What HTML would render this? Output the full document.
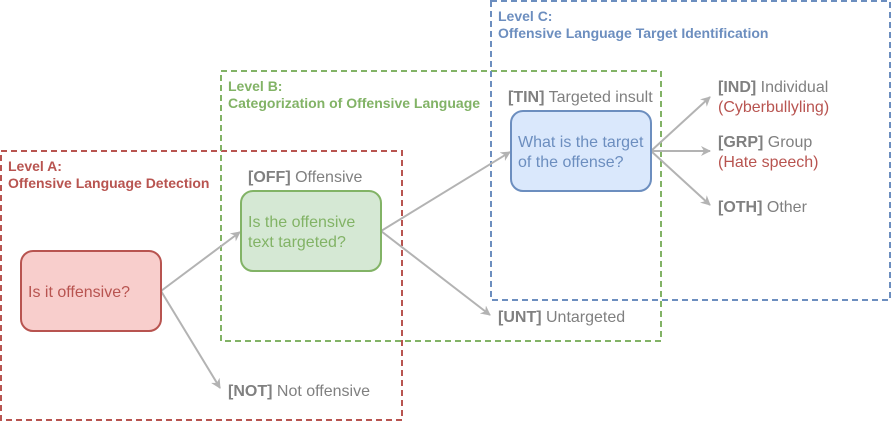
<!DOCTYPE html>
<html><head><meta charset="utf-8"><style>
body{margin:0;background:#fff}
svg text{font-family:"Liberation Sans",Arial,sans-serif}
</style></head><body>
<svg width="892" height="422" viewBox="0 0 892 422" xmlns="http://www.w3.org/2000/svg">
<defs>
<marker id="a" markerWidth="10" markerHeight="10" refX="9" refY="5" orient="auto" markerUnits="userSpaceOnUse">
<path d="M0,0 L10,5 L0,10 L3,5 Z" fill="#b3b3b3"/></marker>
</defs>
<g fill="none" stroke-width="2" stroke-dasharray="6,4">
<rect x="1" y="151" width="401" height="269" stroke="#b85450"/>
<rect x="221" y="71" width="440" height="270" stroke="#82b366"/>
<rect x="491" y="1" width="399" height="299" stroke="#6c8ebf"/>
</g>
<g stroke="#b3b3b3" stroke-width="2" fill="none">
<line x1="161" y1="291" x2="240" y2="232" marker-end="url(#a)"/>
<line x1="161" y1="291" x2="220" y2="388" marker-end="url(#a)"/>
<line x1="381" y1="231" x2="510" y2="152" marker-end="url(#a)"/>
<line x1="381" y1="231" x2="490" y2="315" marker-end="url(#a)"/>
<line x1="651" y1="151" x2="710" y2="97" marker-end="url(#a)"/>
<line x1="651" y1="151" x2="710" y2="151" marker-end="url(#a)"/>
<line x1="651" y1="151" x2="710" y2="205" marker-end="url(#a)"/>
</g>
<rect x="21" y="251" width="140" height="80" rx="12" fill="#f8cecc" stroke="#b85450" stroke-width="2"/>
<rect x="241" y="191" width="140" height="80" rx="12" fill="#d5e8d4" stroke="#82b366" stroke-width="2"/>
<rect x="511" y="111" width="140" height="80" rx="12" fill="#dae8fc" stroke="#6c8ebf" stroke-width="2"/>
<g font-size="14" font-weight="bold">
<text x="8" y="171" fill="#b85450">Level A:</text>
<text x="8" y="188" fill="#b85450">Offensive Language Detection</text>
<text x="228" y="91" fill="#82b366">Level B:</text>
<text x="228" y="108" fill="#82b366">Categorization of Offensive Language</text>
<text x="498" y="21" fill="#6c8ebf">Level C:</text>
<text x="498" y="38" fill="#6c8ebf">Offensive Language Target Identification</text>
</g>
<g font-size="16">
<text x="28" y="297" fill="#b85450">Is it offensive?</text>
<text x="248" y="227" fill="#82b366">Is the offensive</text>
<text x="248" y="247" fill="#82b366">text targeted?</text>
<text x="518" y="147" fill="#6c8ebf">What is the target</text>
<text x="518" y="167" fill="#6c8ebf">of the offense?</text>
<g fill="#808080">
<text x="248" y="182"><tspan font-weight="bold">[OFF]</tspan> Offensive</text>
<text x="228" y="396"><tspan font-weight="bold">[NOT]</tspan> Not offensive</text>
<text x="508" y="102"><tspan font-weight="bold">[TIN]</tspan> Targeted insult</text>
<text x="498" y="322"><tspan font-weight="bold">[UNT]</tspan> Untargeted</text>
<text x="718" y="92"><tspan font-weight="bold">[IND]</tspan> Individual</text>
<text x="718" y="147"><tspan font-weight="bold">[GRP]</tspan> Group</text>
<text x="718" y="212"><tspan font-weight="bold">[OTH]</tspan> Other</text>
</g>
<text x="718" y="112" fill="#b85450">(Cyberbullyling)</text>
<text x="718" y="167" fill="#b85450">(Hate speech)</text>
</g>
</svg>
</body></html>
